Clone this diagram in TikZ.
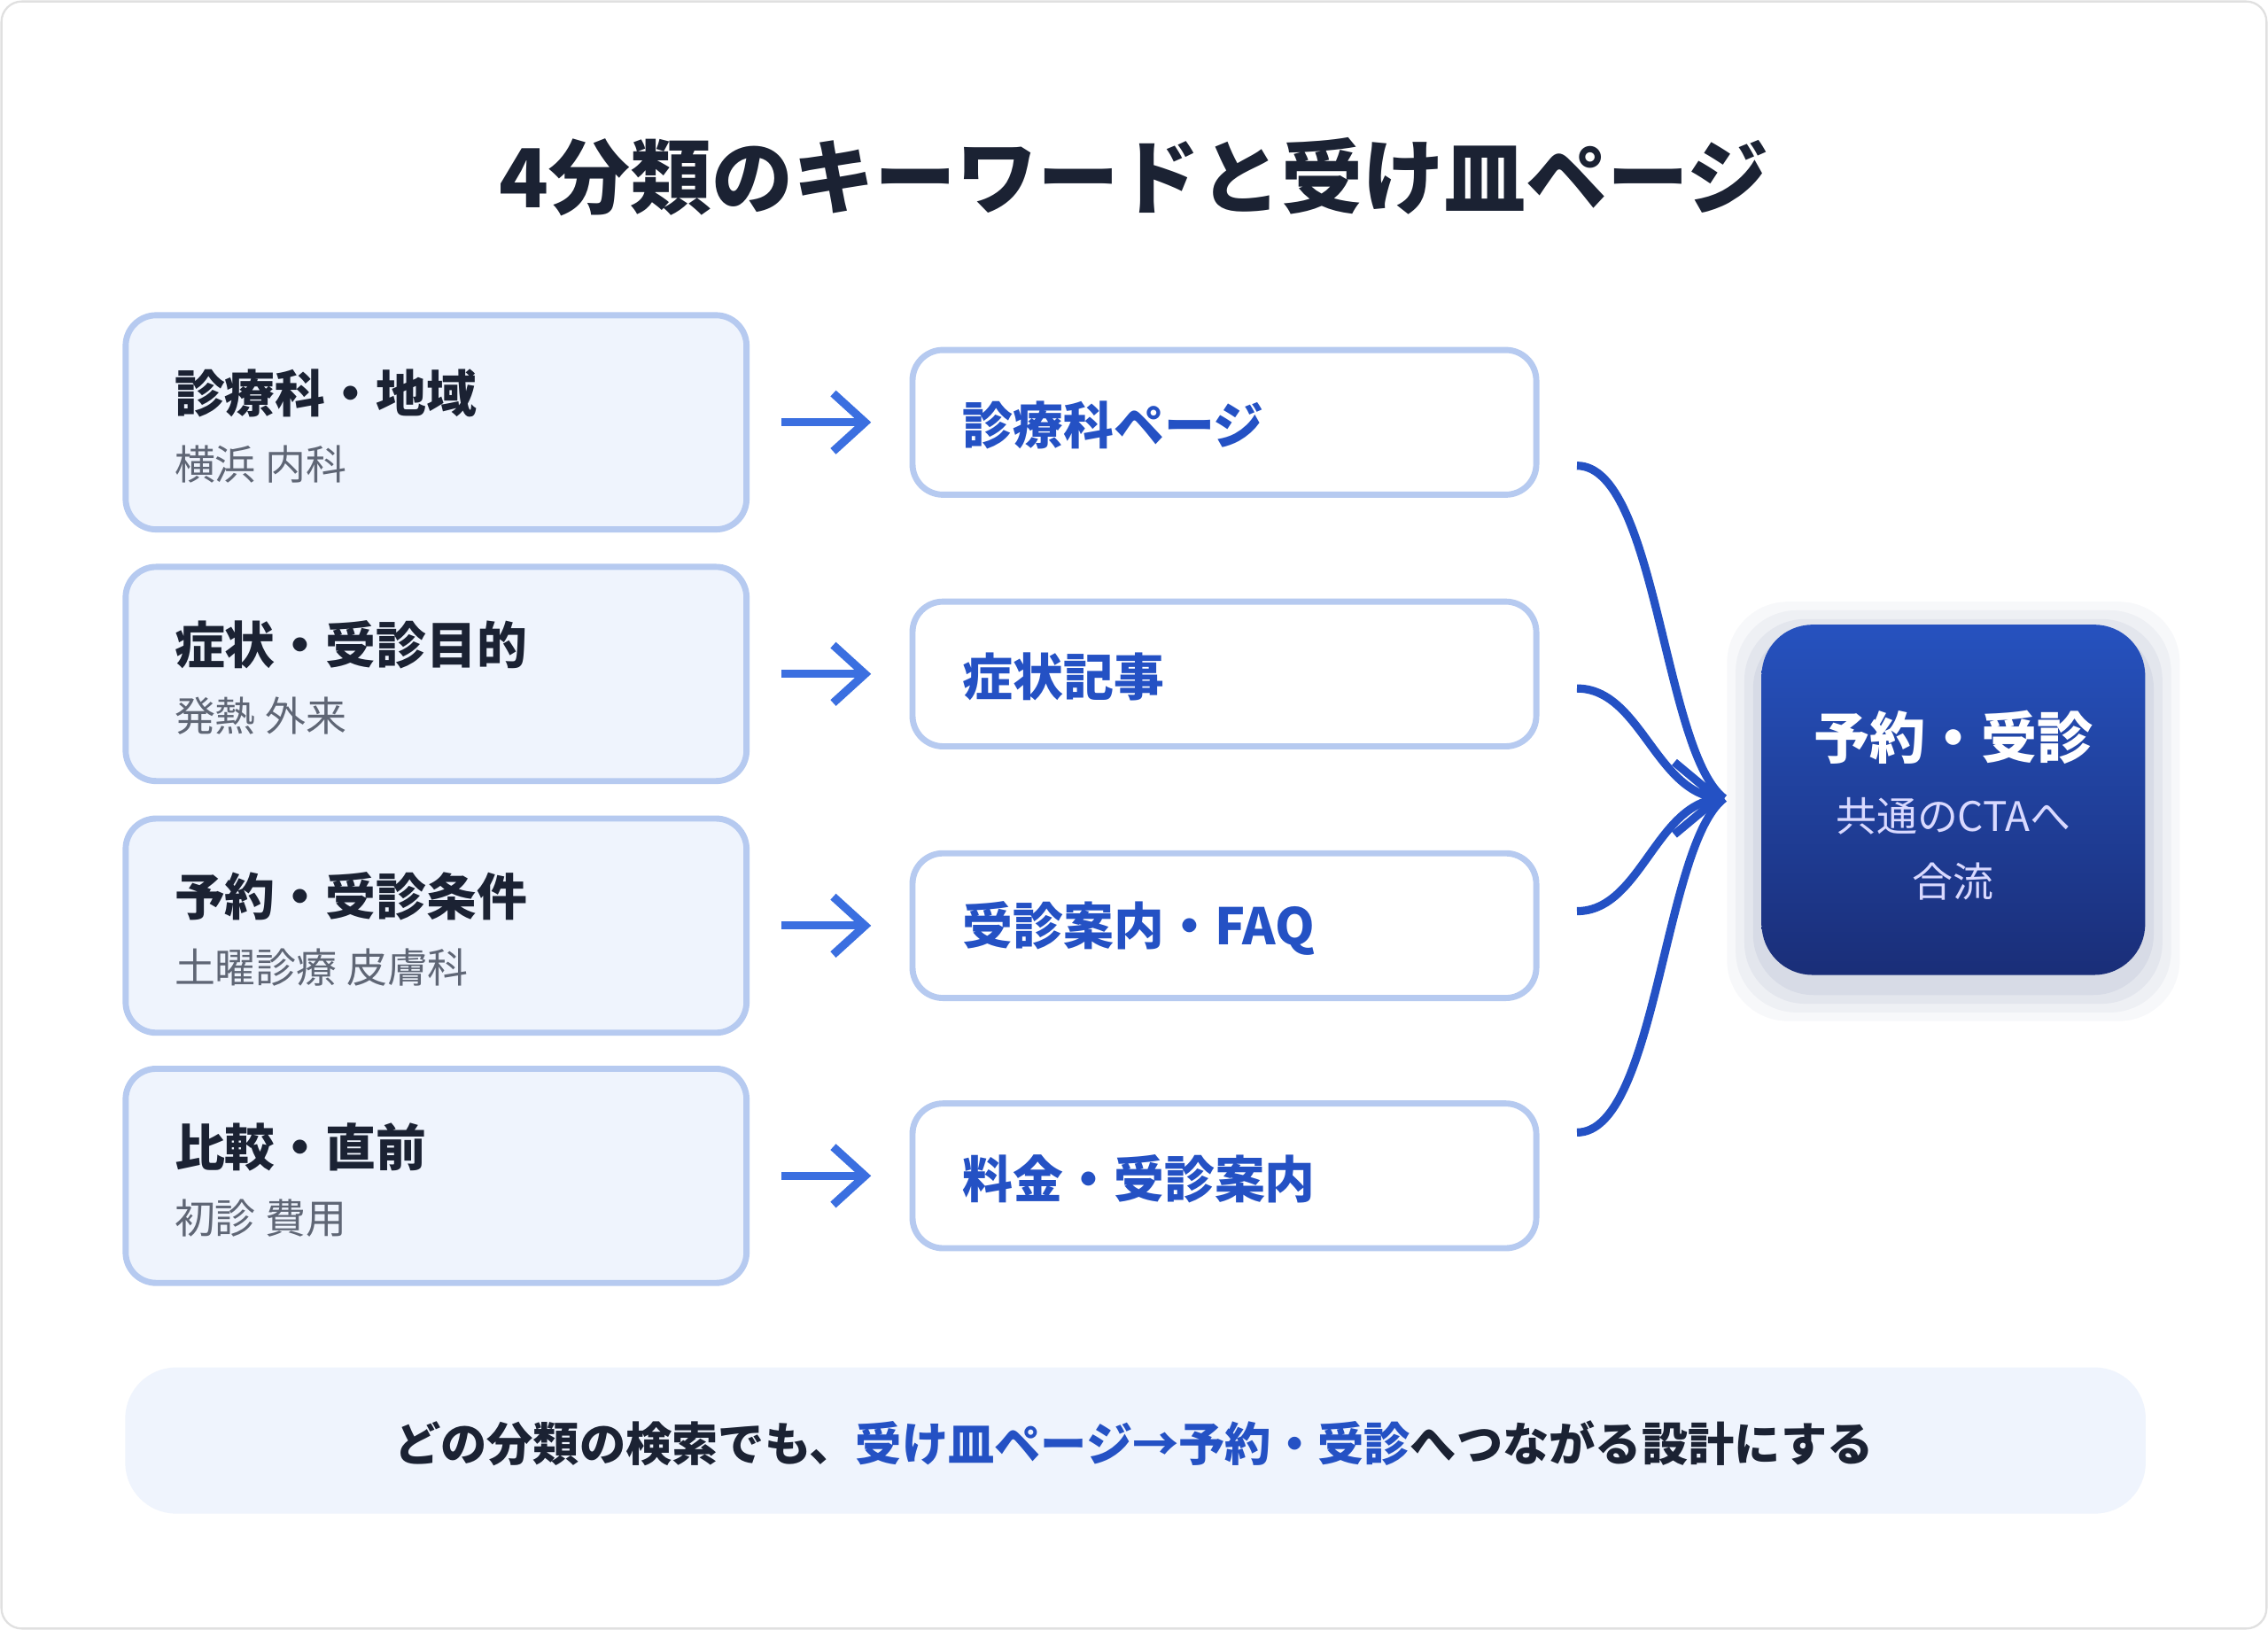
\documentclass[tikz,border=0pt]{standalone}
\usepackage{fontspec}
\setmainfont{Noto Sans CJK JP}
\usepackage{tikz}
\usetikzlibrary{arrows.meta, positioning}
\definecolor{ink}{HTML}{1B2233}
\definecolor{greytxt}{HTML}{5F6675}
\definecolor{paleblue}{HTML}{EFF4FD}
\definecolor{edgeblue}{HTML}{B6CAF0}
\definecolor{deepblue}{HTML}{2451C4}
\definecolor{arrowblue}{HTML}{3B6FE0}
\definecolor{ctatop}{HTML}{2652BF}
\definecolor{ctabot}{HTML}{1A2E78}

\begin{document}
\begin{tikzpicture}[x=0.01cm, y=-0.01cm,
  kwbox/.style={draw=edgeblue, line width=1.2pt, rounded corners=6pt, fill=paleblue, minimum width=4.29cm, minimum height=1.48cm},
  pagebox/.style={draw=edgeblue, line width=1.2pt, rounded corners=6pt, fill=white, minimum width=4.31cm, minimum height=1.0cm},
  kwtitle/.style={anchor=west, inner sep=0pt, font=\fontsize{9.9}{12}\selectfont\bfseries, text=ink},
  kwsub/.style={anchor=west, inner sep=0pt, font=\fontsize{8}{10}\selectfont, text=greytxt},
  pagetext/.style={anchor=west, inner sep=0pt, font=\fontsize{9.9}{12}\selectfont\bfseries, text=deepblue},
  arr/.style={-{Straight Barb[length=2.2mm, width=4mm]}, line width=1.6pt, arrowblue},
  flow/.style={line width=1.6pt, deepblue},
  shade/.style={fill=ctabot, rounded corners=12pt}
]
  % Canvas
  \draw[draw=black!12, fill=white, rounded corners=4pt] (1,1) rectangle (1567,1126);
  \useasboundingbox (0,0) rectangle (1568,1127);

  % Title
  \node[font=\fontsize{16}{20}\selectfont\bfseries, text=ink] (title) at (784,122) {4分類のキーワードと受け皿ページ};

  % Keyword boxes
  \node[kwbox] (kw1) at (301.5,292) {};
  \node[kwbox] (kw2) at (301.5,466) {};
  \node[kwbox] (kw3) at (301.5,640) {};
  \node[kwbox] (kw4) at (301.5,813) {};
  \node[kwtitle] at (120,272) {診療科・地域};
  \node[kwsub] at (120,321) {横浜 内科};
  \node[kwtitle] at (120,446) {症状・受診目的};
  \node[kwsub] at (120,495) {発熱 外来};
  \node[kwtitle] at (120,620) {予約・受診条件};
  \node[kwsub] at (120,669) {土曜診療 皮膚科};
  \node[kwtitle] at (120,793) {比較・直前};
  \node[kwsub] at (120,842) {初診 費用};

  % Landing pages
  \node[pagebox] (pg1) at (846.5,292) {};
  \node[pagebox] (pg2) at (846.5,466) {};
  \node[pagebox] (pg3) at (846.5,640) {};
  \node[pagebox] (pg4) at (846.5,813) {};
  \node[pagetext] at (665,294) {診療科ページ};
  \node[pagetext] at (665,468) {症状記事};
  \node[pagetext] at (665,642) {受診案内・FAQ};
  \node[pagetext] at (665,815) {料金・受診案内};

  % CTA with soft shadow
  \foreach \s/\o in {24/0.03, 18/0.04, 12/0.05, 6/0.06}
    \fill[shade, opacity=\o] (1218-\s,440-\s) rectangle (1483+\s,682+\s);
  \node[rounded corners=10pt, minimum width=2.65cm, minimum height=2.42cm, top color=ctatop, bottom color=ctabot] (cta) at (1350.5,553) {};
  \node[font=\fontsize{11}{14}\selectfont\bfseries, text=white] at (1350.5,510) {予約・受診};
  \node[font=\fontsize{8}{10}\selectfont, text=white!85!blue, align=center] at (1350.5,587) {共通のCTAへ\\[3pt]合流};
  \coordinate (mergein) at (1178,552);
  \coordinate (merge) at (1192,552);

  % Arrows
  \draw[arr] (kw1.east)++(22,0) -- +(62,0);
  \draw[arr] (kw2.east)++(22,0) -- +(62,0);
  \draw[arr] (kw3.east)++(22,0) -- +(62,0);
  \draw[arr] (kw4.east)++(22,0) -- +(62,0);
  \draw[flow] ([xshift=0.26cm]pg1.east) ++(0,30) .. controls +(55,0) and (1150,520) .. (merge);
  \draw[flow] ([xshift=0.26cm]pg2.east) ++(0,10) .. controls +(45,0) and (1145,552) .. (merge);
  \draw[flow] ([xshift=0.26cm]pg3.east) ++(0,-10) .. controls +(45,0) and (1145,552) .. (merge);
  \draw[flow] ([xshift=0.26cm]pg4.east) ++(0,-30) .. controls +(55,0) and (1150,584) .. (merge);
  \draw[flow, -{Straight Barb[length=3mm, width=5mm]}] (mergein) -- (merge);

  % Summary banner
  \node[fill=paleblue, rounded corners=10pt, minimum width=13.96cm, minimum height=1.01cm] (banner) at (785,996) {};
  \node[font=\fontsize{9.1}{12}\selectfont\bfseries, text=ink] at (784,998) {どの分類の検索でも、\textcolor{deepblue}{受け皿ページ→予約・受診}へつながる設計にする};
\end{tikzpicture}
\end{document}
